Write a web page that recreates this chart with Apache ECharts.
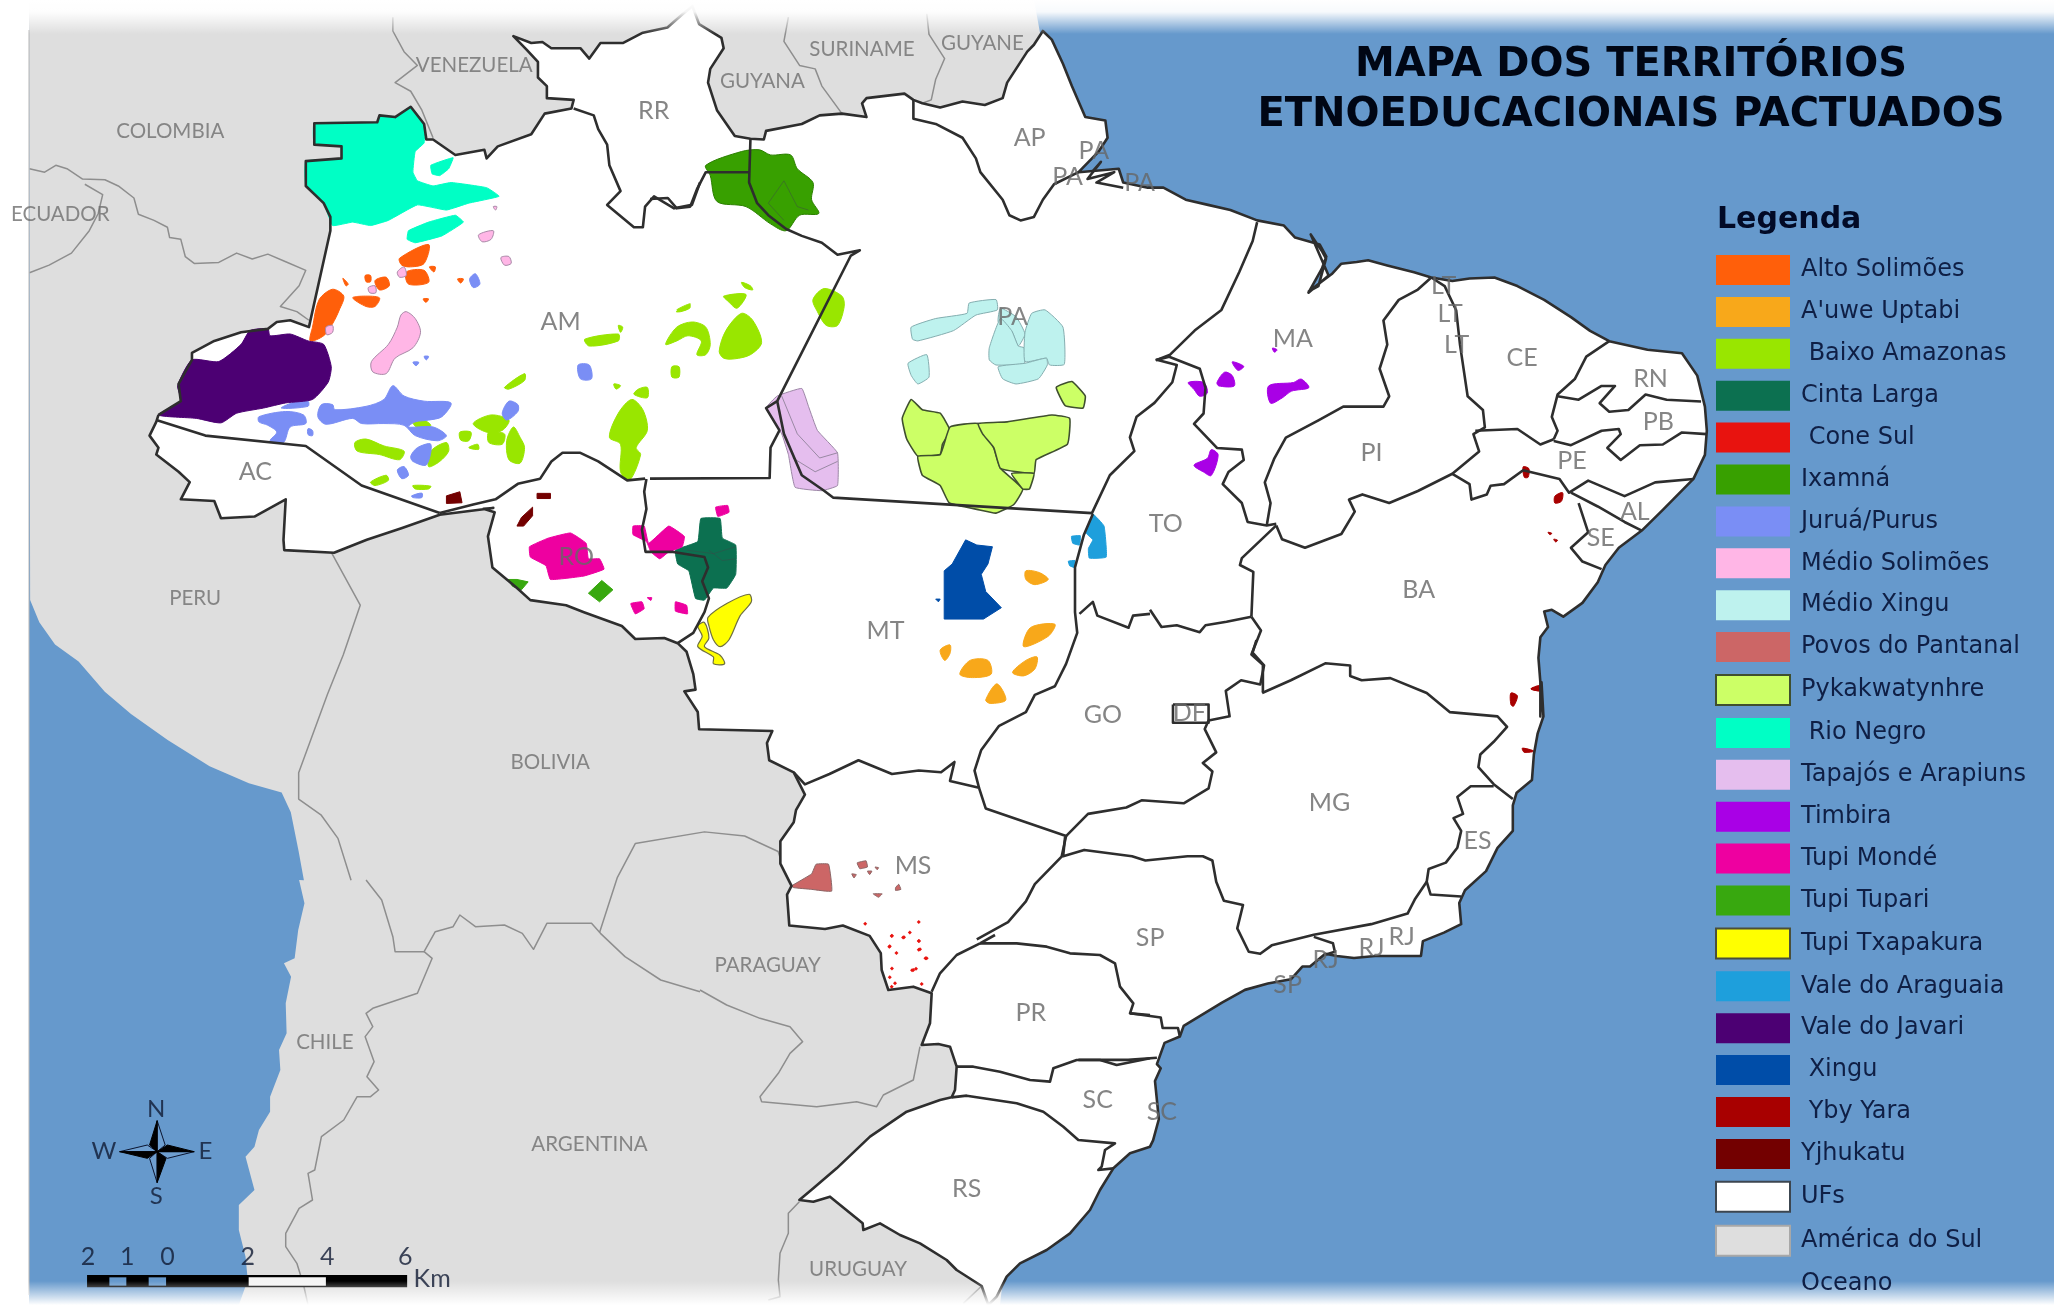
<!DOCTYPE html>
<html><head><meta charset="utf-8">
<style>html,body{margin:0;padding:0;background:#fff}#c{width:2054px;height:1305px}</style>
<script src="https://cdn.jsdelivr.net/npm/echarts@6/dist/echarts.min.js"></script>
</head><body><div id="c"></div>
<script>
const sheet=(ox,oy,kx,ky)=>pts=>pts.map(p=>[ox+p[0]/kx,oy+p[1]/ky]);
const A=sheet(0,0,2.24,2.904),B=sheet(650,0,2.24,2.904),C=sheet(1150,200,2.613,2.904),
      D=sheet(450,440,2.24,2.904),E=sheet(1000,640,2.613,2.358),F=sheet(0,880,2.24,3),
      G=sheet(700,930,3,3),S=sheet(0,0,.7634,.7634);

// ---------- legend ----------
const legendNames=["Alto Solimões","A'uwe Uptabi"," Baixo Amazonas","Cinta Larga"," Cone Sul","Ixamná","Juruá/Purus","Médio Solimões","Médio Xingu","Povos do Pantanal","Pykakwatynhre"," Rio Negro","Tapajós e Arapiuns","Timbira","Tupi Mondé","Tupi Tupari","Tupi Txapakura","Vale do Araguaia","Vale do Javari"," Xingu"," Yby Yara","Yjhukatu","UFs","América do Sul","Oceano"];

// ---------- South America ----------
const landTop=[[29,0],[1034,0]];
const landNorthCoast=S([[23,458],[30,475],[42,492],[60,505],[80,528],[100,545],[128,565],[160,585],[190,598],[215,605],[222,620],[228,650],[232,672]]);
const landWestCoast=F([[670,0],[682,70],[668,150],[660,235],[636,250],[652,290],[640,370],[642,460],[625,510],[628,570],[605,650],[605,695],[580,750],[570,800],[550,830],[570,930],[535,975],[535,1050],[550,1130],[555,1200],[535,1275]]);
const southAmerica=[[...landTop,[1045,60],[1100,400],[1000,1305],[240,1305],...landWestCoast.slice().reverse(),...landNorthCoast.slice().reverse()]];
const countryBorders=[
 A([[66,490],[100,500],[125,480],[150,490],[185,520],[235,522],[265,540],[300,575],[310,622],[345,640],[375,660],[380,690],[405,695],[415,745],[435,765],[490,762],[530,735],[565,752],[600,738],[640,760],[685,785],[670,830],[628,890],[665,905],[692,930]]),
 A([[190,535],[230,565],[220,620],[200,670],[160,735],[110,770],[66,792]]),
 A([[880,50],[880,90],[905,150],[935,190],[885,240],[920,265],[945,320],[970,400]]),
 B([[310,50],[300,120],[335,190],[370,200],[385,250],[430,330]]),
 B([[620,40],[625,100],[660,170],[640,230],[630,290],[610,300]]),
 S([[252,420],[275,462],[262,500],[250,530],[228,590],[228,610],[245,622],[258,640],[268,672]]),
 F([[820,0],[855,60],[880,170],[885,215],[950,215],[975,155],[1015,140],[1030,105],[1065,140],[1130,135],[1170,160],[1195,208],[1225,130],[1325,130],[1345,160],[1400,230],[1480,300],[1568,335]]),
 F([[950,215],[968,235],[935,340],[835,385],[820,400],[835,440],[818,470],[838,545],[822,590],[848,630],[830,650],[800,650],[770,720],[720,770],[705,870],[690,880],[700,960],[670,985],[640,1060],[640,1100],[665,1150],[680,1215],[690,1275]]),
 D([[335,1430],[375,1270],[415,1172],[570,1138],[660,1150],[735,1195],[740,1215]]),
 G([[0,180],[80,225],[180,265],[270,290],[308,335],[270,370],[235,430],[180,500],[185,515],[350,530],[470,515],[530,530],[550,495],[640,450],[660,350]]),
 G([[298,815],[265,850],[265,910],[240,970],[235,1050],[240,1100],[205,1110]]),
 G([[845,1068],[790,1120]])
];

// ---------- Brazil outline ----------
const ufOutline=[...A([[355,1205],[405,1165],[400,1115],[430,1045],[430,1025],[480,990],[540,965],[600,955],[620,935],[650,930],[692,950],[740,670],[740,630],[725,590],[685,540],[685,468],[765,460],[765,425],[704,420],[704,358],[845,355],[850,335],[885,340],[920,310],[950,360],[955,405],[970,405],[1020,450],[1085,435],[1090,460],[1115,425],[1190,390],[1220,330],[1280,315],[1285,290],[1225,285],[1225,250],[1205,225],[1205,180],[1180,145],[1150,105],[1190,125],[1215,122],[1235,140],[1300,140],[1320,170],[1345,125],[1395,125],[1440,95],[1495,80],[1530,40]]),
 ...B([[95,18],[110,70],[160,110],[165,140],[135,200],[130,240],[150,320],[190,395],[225,403],[255,405],[260,380],[340,360],[380,335],[430,330],[485,340],[475,300],[485,285],[570,272],[590,290],[610,300],[650,312],[700,295],[750,305],[790,285],[800,240],[845,150],[860,130],[880,90],[900,115],[925,185],[945,250],[975,340],[1020,350],[1025,400],[1005,440],[990,460],[960,500],[1050,490],[1060,530],[1115,545],[1150,545],[1200,580],[1250,595],[1300,610],[1360,640],[1420,655],[1445,690],[1500,710],[1515,745],[1505,780],[1475,850],[1520,800]]),
 ...C([[420,100],[450,150],[460,170],[440,250],[415,265],[475,215],[500,185],[540,180],[570,175],[620,190],[690,210],[735,225],[790,235],[835,228],[900,225],[960,250],[1030,290],[1100,340],[1150,380],[1200,410],[1300,435],[1390,445],[1430,510],[1450,600],[1455,670],[1450,740],[1420,810],[1340,900],[1285,960],[1225,1010],[1190,1060],[1170,1110],[1130,1170],[1080,1210],[1050,1190],[1030,1195],[1040,1240],[1020,1270],[1015,1330],[1020,1400],[1020,1500]]),
 ...E([[1415,100],[1420,180],[1405,220],[1395,270],[1390,330],[1350,360],[1340,390],[1340,450],[1300,490],[1270,545],[1215,590],[1200,620],[1205,670],[1160,690],[1105,710],[1100,745],[1040,745],[980,745],[925,750],[880,745],[850,740],[810,770],[790,770],[760,800],[700,810],[640,825],[580,855],[480,910],[470,935],[430,950],[410,1000],[420,1010],[405,1040],[415,1130],[400,1180]]),
 ...G([[1350,650],[1290,670],[1240,715],[1200,780],[1170,840],[1110,910],[1040,960],[960,1000],[920,1040],[890,1100],[865,1125],[845,1068],[770,1020],[740,990],[660,940],[600,915],[540,880],[490,900],[488,880],[390,800],[340,815],[298,810],[340,775],[410,715],[510,620],[620,545],[720,510],[755,502],[765,480],[770,410],[750,350],[715,342],[665,345],[690,280],[695,190],[640,170],[565,180],[545,120]]),
 ...D([[965,1490],[940,1440],[880,1410],[840,1420],[760,1410],[755,1320],[765,1295],[740,1230],[740,1165],[770,1110],[775,1075],[795,1030],[770,965],[715,930],[710,880],[722,845],[558,840],[555,790],[525,730],[550,725],[545,680],[530,615],[510,590],[480,575],[415,578],[385,540],[300,500],[260,480],[180,465],[150,430],[95,370],[85,280],[100,210],[75,200]]),
 ...A([[1105,1475],[985,1495]]),
 ...S([[307,403],[280,412],[255,422],[217,420]]),
 ...A([[635,1568],[640,1450],[570,1500],[495,1505],[480,1455],[405,1450],[425,1400],[400,1370],[350,1320],[355,1300],[335,1265],[350,1225]])
];
const ufBorders=[
 A([[350,1220],[460,1265],[685,1295],[810,1410],[985,1490]]),
 A([[1285,315],[1330,335],[1340,375],[1360,420],[1365,480],[1390,555],[1360,595],[1420,660],[1440,660],[1445,600],[1465,570],[1510,605],[1550,595],[1568,530]]),
 B([[0,578],[40,575],[60,605],[90,600],[105,550],[125,500],[222,500]]),
 B([[225,403],[222,530],[240,590],[265,625],[305,665],[340,685],[385,705],[420,740],[470,727],[450,742],[285,1165],[260,1185],[290,1250],[270,1300],[268,1388],[0,1390]]),
 A([[1445,1390],[1405,1395],[1340,1340],[1300,1315],[1260,1315],[1235,1340],[1210,1390],[1160,1405],[1110,1450],[1060,1465],[985,1490]]),
 D([[440,113],[435,150],[440,200],[430,260],[438,325],[500,325],[570,340],[578,370],[565,410],[580,460],[570,500],[545,560],[510,590]]),
 B([[285,1165],[300,1260],[340,1380],[390,1425],[410,1445],[990,1490],[1030,1380],[1085,1310],[1075,1270],[1090,1210],[1130,1170],[1170,1110],[1180,1060],[1135,1045],[1165,1030],[1220,960],[1280,900],[1320,790],[1350,700],[1360,645]]),
 D([[1440,215],[1420,275],[1400,370],[1400,500],[1405,560],[1380,650],[1355,715],[1310,740],[1290,790],[1230,830],[1190,900],[1175,960],[1185,1010]]),
 D([[1410,505],[1440,470],[1450,510],[1520,545],[1530,510],[1568,505]]),
 C([[0,1190],[30,1240],[70,1235],[130,1255],[145,1235],[200,1225],[265,1210]]),
 D([[770,965],[795,1000],[850,970],[915,930],[990,970],[1050,960],[1100,965],[1130,935],[1120,990],[1185,1010],[1200,1070],[1290,1110],[1380,1150],[1370,1210],[1310,1290],[1290,1340],[1250,1400],[1180,1450]]),
 G([[840,40],[770,75],[720,130],[695,185]]),
 G([[840,40],[885,15]]),
 E([[170,465],[230,410],[330,395],[370,378],[480,385],[545,350],[555,310],[530,290],[565,265],[535,210],[545,190],[600,180],[590,120],[630,95],[680,105],[690,60],[660,30],[670,0]]),
 C([[265,1210],[290,1250],[265,1320],[295,1350],[295,1430]]),
 E([[685,125],[760,95],[850,55],[915,60],[915,85],[945,95],[1020,90],[1115,125],[1175,170],[1300,180],[1325,205],[1290,240],[1255,270],[1250,300],[1290,340],[1340,375]]),
 E([[1290,345],[1230,345],[1195,370],[1210,410],[1185,420],[1205,450],[1195,490],[1165,525],[1120,540],[1115,570],[1125,600],[1205,605]]),
 E([[1115,570],[1085,610],[1065,645],[970,670],[820,695],[710,720],[680,740],[650,735],[620,680],[635,625],[585,615],[565,570],[555,520],[530,510],[490,510],[380,520],[345,510],[220,495],[165,510],[170,465]]),
 E([[820,700],[870,715],[875,735],[850,742]]),
 G([[840,40],[950,40],[1040,50],[1110,70],[1200,75],[1245,100],[1260,170],[1300,220],[1290,250],[1350,255]]),
 E([[340,880],[420,890],[425,915],[465,915],[470,935]]),
 G([[770,410],[820,410],[900,425],[990,450],[1050,455],[1060,415],[1130,390],[1200,390],[1250,405],[1350,385]]),
 E([[205,990],[335,990],[410,985]]),
 G([[755,502],[800,497],[850,505],[950,520],[1030,545],[1090,590],[1135,630],[1245,640],[1215,660],[1205,710],[1195,720],[1240,715]]),
 C([[735,225],[700,260],[650,290],[610,350],[620,420],[600,490],[625,570],[610,600],[505,600],[440,640],[355,690],[325,750],[300,820],[315,880],[305,945]]),
 C([[15,465],[50,455],[130,490],[145,545],[140,620],[115,650],[175,720],[240,725],[245,755],[205,790],[190,825],[240,880],[255,935],[305,945],[330,940]]),
 C([[330,945],[345,985],[405,1010],[500,970],[535,905],[520,870],[555,855],[625,880],[700,845],[790,795],[860,730],[845,680],[875,660],[870,610],[830,570],[810,420],[800,320],[770,250],[735,225]]),
 C([[330,945],[240,1040],[235,1060],[270,1080],[265,1210]]),
 C([[850,670],[960,665],[1020,710],[1055,695]]),
 C([[1200,410],[1140,455],[1110,520],[1065,565],[1050,630],[1065,670],[1055,695]]),
 C([[1065,570],[1120,580],[1180,540],[1215,540],[1175,590],[1200,615],[1250,610],[1295,565],[1350,580],[1440,585]]),
 C([[1055,700],[1100,712],[1180,670],[1225,665],[1230,680],[1195,720],[1230,755],[1280,712],[1340,710],[1390,675],[1455,680]]),
 C([[790,795],[835,825],[840,870],[880,855],[890,830],[925,825],[975,785],[1070,810],[1095,850],[1145,815],[1240,860],[1320,820],[1420,810]]),
 C([[1100,850],[1170,890],[1240,935],[1285,960]]),
 C([[1120,880],[1145,965],[1100,1010],[1130,1050],[1180,1072]]),
 E([[452,152],[545,152],[545,195],[452,195],[452,152]]),
 B([[990,500],[1010,470],[980,520],[1040,500],[1000,530],[1060,545]]),
 B([[590,290],[590,345],[640,360],[700,400],[730,460],[740,500],[790,580],[805,625],[830,640],[860,630],[880,580],[905,535],[960,500]])
];
const territoryInnerLines=[
 B([[300,525],[265,590],[300,640]]),B([[300,525],[330,600],[355,610]]),
 B([[295,1150],[330,1260],[380,1330],[420,1315]]),B([[320,1330],[370,1370],[420,1340]]),
 D([[530,320],[590,330],[640,310]]),D([[580,320],[610,350],[640,345]])
];

// ---------- territories ----------
const altoSolimoes=[A([[700,950],[715,870],[745,840],[770,860],[760,900],[745,940],[725,975],[695,990]]),A([[895,750],[960,710],[950,765],[920,775],[900,770]]),A([[910,790],[950,785],[960,820],[915,825]]),A([[790,865],[815,860],[850,865],[840,890],[820,890]]),A([[840,815],[865,805],[872,830],[850,842]]),A([[962,775],[975,775],[972,790]]),A([[818,800],[830,800],[830,818],[820,818]]),A([[768,808],[780,825],[775,830]]),A([[948,868],[960,868],[954,878]]),A([[1025,810],[1038,810],[1032,822]])];
const auwe=[D([[1290,380],[1320,385],[1340,405],[1310,420],[1290,405]]),D([[1300,545],[1355,535],[1340,570],[1285,600]]),D([[1098,610],[1120,595],[1120,620],[1108,640]]),D([[1142,680],[1165,640],[1205,640],[1212,680],[1170,690]]),D([[1260,675],[1290,640],[1315,630],[1310,665],[1285,685]]),D([[1200,755],[1225,708],[1245,755],[1210,765]])];
const baixoAmazonas=[
 A([[1310,985],[1385,970],[1385,990],[1320,1005]]),A([[1385,945],[1395,950],[1390,965]]),
 A([[1365,1270],[1385,1200],[1415,1160],[1440,1190],[1450,1250],[1425,1300],[1435,1320],[1410,1395],[1390,1370],[1390,1290]]),
 A([[1060,1230],[1100,1205],[1140,1220],[1125,1250],[1090,1255]]),A([[1095,1255],[1130,1260],[1125,1290],[1095,1285]]),
 A([[1150,1240],[1165,1270],[1175,1300],[1165,1345],[1140,1335],[1135,1280]]),
 A([[795,1285],[820,1275],[860,1295],[905,1310],[895,1335],[850,1320],[800,1310]]),
 A([[960,1355],[965,1310],[1000,1285],[1005,1310],[985,1340]]),A([[1030,1255],[1055,1255],[1050,1280],[1032,1278]]),
 A([[1050,1300],[1070,1290],[1072,1305]]),A([[830,1400],[865,1380],[870,1395],[840,1410]]),
 A([[925,1410],[965,1412],[960,1420],[930,1420]]),A([[1130,1125],[1175,1085],[1175,1105],[1140,1130]]),
 A([[1430,1130],[1450,1125],[1450,1155],[1420,1145]]),A([[1375,1115],[1390,1120],[1380,1130]]),
 A([[1505,1065],[1520,1065],[1518,1095],[1505,1095]]),A([[1515,905],[1545,885],[1545,895],[1525,905]]),
 A([[925,1228],[945,1218],[965,1235],[945,1250]]),
 B([[35,1000],[60,950],[95,935],[125,950],[135,1000],[125,1030],[105,1030],[115,990],[85,975],[60,990]]),
 B([[155,1020],[170,960],[205,910],[230,930],[250,995],[225,1030],[190,1042],[165,1040]]),
 B([[365,870],[390,838],[430,860],[435,890],[420,945],[395,945],[375,905]]),
 B([[165,860],[215,855],[195,895],[175,875]]),B([[205,820],[225,830],[230,842],[212,835]]),
 B([[50,1070],[65,1065],[65,1095],[52,1095]]),B([[60,900],[90,882],[80,900]])
];
const cintaLarga=[D([[562,228],[605,228],[610,285],[640,305],[640,390],[620,430],[590,430],[570,465],[550,460],[535,380],[510,360],[505,320],[555,295]])];
const ixamna=[B([[125,480],[205,440],[245,435],[270,450],[315,450],[330,490],[365,530],[362,580],[378,620],[335,625],[305,670],[270,650],[215,600],[150,585],[135,510]])];
const juruaPurus=[
 A([[880,1120],[905,1150],[950,1165],[1010,1170],[990,1210],[960,1220],[930,1225],[915,1240],[970,1240],[1000,1265],[980,1280],[930,1265],[905,1235],[860,1230],[810,1230],[790,1215],[730,1232],[712,1210],[720,1175],[745,1175],[750,1190],[820,1180],[860,1160]]),
 A([[580,1210],[640,1195],[680,1205],[685,1230],[650,1240],[635,1285],[605,1280],[620,1255],[600,1235],[580,1225]]),
 A([[630,1185],[665,1165],[690,1165],[690,1180]]),A([[1140,1165],[1160,1175],[1160,1195],[1135,1220],[1125,1200]]),
 A([[935,1300],[965,1290],[955,1350],[925,1340],[920,1325]]),A([[890,1365],[905,1355],[915,1380],[900,1390]]),
 A([[1295,1060],[1320,1060],[1325,1100],[1300,1100]]),A([[1052,810],[1065,795],[1075,825],[1060,835]]),
 A([[922,1440],[945,1432],[945,1445],[925,1445]]),A([[690,1245],[700,1250],[700,1265],[690,1262]]),
 A([[925,1052],[938,1052],[932,1062]]),A([[950,1035],[960,1035],[955,1045]])
];
const medioSolimoes=[
 A([[910,905],[930,925],[942,965],[925,1010],[885,1040],[865,1085],[835,1080],[832,1050],[870,1000],[890,950],[898,915]]),
 A([[1072,682],[1105,670],[1100,695],[1080,702]]),A([[1122,748],[1140,745],[1145,765],[1130,770]]),
 A([[730,950],[745,945],[745,965],[732,972]]),A([[825,835],[840,830],[842,850],[828,850]]),
 A([[890,790],[905,775],[910,800],[895,805]]),A([[1105,600],[1113,600],[1110,610]])
];
const medioXingu=[
 B([[585,950],[640,925],[710,910],[715,880],[775,870],[778,900],[730,915],[680,960],[600,990],[588,985]]),
 B([[785,895],[820,920],[840,970],[825,1005],[810,960],[780,935]]),
 B([[760,1010],[785,925],[810,960],[825,1005],[838,1010],[838,1055],[775,1060],[760,1045]]),
 B([[840,965],[855,910],[885,900],[925,950],[928,1058],[895,1060],[888,1040],[840,1050]]),
 B([[780,1065],[840,1055],[888,1040],[890,1060],[870,1100],[820,1115],[790,1100]]),
 B([[578,1055],[620,1030],[625,1095],[600,1115],[585,1090]])
];
const povosPantanal=[D([[765,1295],[810,1260],[820,1232],[848,1232],[855,1310],[810,1305],[770,1300]]),D([[912,1228],[932,1222],[935,1240],[918,1245]]),D([[900,1260],[910,1262],[905,1272]]),D([[935,1252],[945,1252],[940,1262]]),D([[952,1240],[960,1242],[957,1248]]),D([[998,1300],[1005,1290],[1010,1305],[998,1308]]),D([[948,1318],[968,1318],[960,1328]])];
const pykakwatynhre=[
 B([[565,1215],[585,1160],[610,1190],[650,1200],[672,1250],[655,1290],[650,1320],[600,1325],[575,1275]]),
 B([[600,1325],[650,1320],[672,1240],[735,1230],[770,1300],[785,1360],[835,1420],[815,1465],[775,1490],[735,1480],[670,1460],[650,1410],[610,1380]]),
 B([[735,1230],[800,1225],[900,1205],[940,1215],[935,1290],[865,1335],[860,1375],[785,1360],[770,1300],[745,1260]]),
 B([[810,1375],[860,1375],[850,1420],[835,1420]]),B([[910,1125],[945,1108],[975,1150],[970,1185],[930,1178]])
];
const rioNegro=[
 A([[704,358],[845,355],[850,335],[885,340],[920,310],[950,360],[950,415],[930,440],[925,500],[935,525],[970,540],[1010,530],[1090,545],[1118,570],[1050,590],[1000,610],[935,595],[870,640],[830,655],[790,645],[745,655],[725,590],[685,540],[685,468],[765,460],[765,425],[704,420]]),
 A([[965,480],[1015,458],[1005,490],[985,510],[968,505]]),
 A([[915,670],[960,645],[1020,625],[1038,645],[990,685],[930,705],[912,695]])
];
const tapajosArapiuns=[B([[260,1185],[285,1150],[340,1128],[355,1180],[375,1250],[420,1315],[420,1410],[385,1425],[325,1415],[310,1320],[295,1260]])];
const timbira=[C([[100,530],[140,530],[150,560],[130,570],[115,550]]),C([[175,530],[195,500],[215,510],[220,540],[180,540]]),C([[215,470],[245,483],[230,495]]),C([[310,540],[375,530],[395,520],[415,545],[370,555],[345,575],[315,590]]),C([[115,770],[150,750],[160,725],[178,740],[160,800],[140,790]]),C([[320,430],[332,435],[325,442]])];
const tupiMonde=[D([[178,310],[220,285],[270,270],[305,300],[310,345],[335,345],[345,375],[300,395],[225,405],[215,365],[180,340]]),D([[410,250],[435,250],[445,300],[490,250],[525,280],[520,310],[490,325],[470,345],[450,325],[440,295],[410,275]]),D([[595,195],[622,190],[625,210],[600,222]]),D([[405,475],[430,470],[435,490],[415,505]]),D([[505,470],[530,480],[532,505],[505,497]]),D([[442,458],[452,458],[450,466]])];
const tupiTupari=[D([[340,408],[365,435],[335,470],[310,445]]),D([[130,405],[150,405],[175,412],[160,435],[140,425]])];
const tupiTxapakura=[D([[578,515],[620,475],[670,448],[675,470],[650,510],[625,580],[605,600],[590,580],[580,540]]),D([[555,540],[570,530],[580,575],[570,600],[605,625],[615,650],[590,650],[590,630],[555,600],[565,570]])];
const valeAraguaia=[D([[1440,215],[1465,250],[1470,340],[1432,343],[1430,315],[1440,290],[1425,270]]),D([[1392,280],[1412,278],[1410,305],[1395,300]]),D([[1385,352],[1400,350],[1398,370],[1388,365]])];
const valeJavari=[A([[355,1205],[405,1165],[398,1120],[430,1045],[490,1050],[540,1000],[560,960],[600,955],[605,975],[650,970],[690,990],[725,1000],[742,1065],[735,1110],[700,1160],[640,1170],[590,1185],[530,1200],[495,1228],[440,1215]])];
const xingu=[D([[1155,290],[1180,305],[1215,310],[1205,360],[1190,390],[1200,440],[1235,487],[1195,520],[1107,520],[1107,380],[1125,360]]),D([[1088,462],[1098,462],[1094,470]])];
const ybyYara=[C([[975,775],[990,780],[988,805],[978,805]]),C([[1058,860],[1078,850],[1075,875],[1058,880]]),C([[1040,965],[1050,968],[1045,972]]),C([[1055,985],[1065,988],[1060,993]]),C([[943,1432],[960,1440],[950,1470],[943,1465]]),C([[995,1420],[1018,1410],[1020,1425]]),E([[1365,255],[1395,262],[1370,265]]),E([[1388,115],[1415,110],[1412,120]])];
const yjhukatu=[D([[195,155],[225,155],[225,170],[195,170]]),D([[185,195],[185,220],[165,250],[150,250],[160,225]]),A([[1000,1440],[1030,1428],[1035,1460],[1000,1462]])];
const coneSulDots=[...D([[930,1405],[1050,1400],[990,1440],[1030,1430],[1015,1445],[1050,1455],[985,1470],[1050,1480],[1065,1505],[1000,1490],[1035,1540],[990,1535],[985,1560]]),...G([[575,18],[612,22],[657,33],[568,50],[660,58],[680,85],[640,120],[648,116],[585,160],[575,170],[665,162]])];

// ---------- place names ----------
const stateLabels=[['RR',499,85],['AP',786,105],['AM',428,246],['MA',987,259],['CE',1162,273],['RN',1260,289],['PB',1266,322],['PE',1200,352],['PI',1047,346],['AL',1248,391],['SE',1222,411],['BA',1083,450],['TO',890,400],['AC',195,360],['MT',676,482],['GO',842,546],['DF',908,544],['MG',1015,613],['ES',1128,642],['MS',697,661],['SP',878,716],['RJ',1070,715],['RJ',1047,724],['RJ',1012,733],['SP',983,752],['PR',787,773],['SC',838,840],['SC',887,849],['RS',738,908],['PA',773,242],['PA',835,115],['PA',815,135],['PA',870,140],['LT',1102,218],['LT',1107,240],['LT',1112,263],['RO',440,425]];
const countryLabels=[['VENEZUELA',362,50],['COLOMBIA',130,100],['ECUADOR',46,164],['PERU',149,457],['BOLIVIA',420,582],['GUYANA',582,62],['SURINAME',658,38],['GUYANE',750,33],['PARAGUAY',586,737],['CHILE',248,796],['ARGENTINA',450,874],['URUGUAY',655,969]];
// ---------- furniture ----------
const compassDark=[F([[352,722],[352,815],[335,795]]),F([[435,815],[352,815],[375,795]]),F([[268,815],[352,815],[330,835]]),F([[352,908],[352,815],[372,835]])];
const compassLight=[F([[352,722],[352,815],[370,795]]),F([[435,815],[352,815],[375,835]]),F([[268,815],[352,815],[330,795]]),F([[352,908],[352,815],[335,835]])];
const scaleBlack=[F([[195,1185],[912,1185],[912,1222],[195,1222]])];
const scaleBlue=[F([[245,1192],[283,1192],[283,1217],[245,1217]]),F([[333,1192],[372,1192],[372,1217],[333,1217]])];
const scaleWhite=[F([[557,1192],[730,1192],[730,1217],[557,1217]])];
const scaleLabels=[['2',197,1132],['1',285,1132],['0',375,1132],['2',555,1132],['4',733,1132],['6',908,1132],['Km',968,1197]];
const compassLabels=[['N',350,688],['W',233,815],['E',460,815],['S',350,948]];

// ---------- series helpers ----------
const polySeries=(name,polys,st,z,closed=true)=>({
 name,type:'custom',coordinateSystem:'cartesian2d',silent:true,z,animation:false,clip:false,
 itemStyle:{color:st.fill||'transparent',borderColor:st.legendBorder||'transparent',borderWidth:st.legendBorder?2:0},
 data:polys.map(p=>p[0]),
 renderItem(params,api){
  const pts=polys[params.dataIndex].map(p=>api.coord(p));
  return {type:closed?'polygon':'polyline',shape:{points:pts,smooth:st.smooth||0},
   style:{fill:closed?st.fill:null,stroke:st.stroke||null,lineWidth:st.width||0,lineJoin:'round'}};
 }
});
const labelSeries=(name,rows,conv,color,size,font,z=40)=>({
 name,type:'scatter',silent:true,z,symbolSize:1,itemStyle:{color:'rgba(0,0,0,0)'},animation:false,
 data:rows.map(r=>({name:r[0],value:conv([[r[1],r[2]]])[0]})),
 label:{show:true,position:'inside',formatter:'{b}',color,fontSize:size,fontFamily:font}
});
const W=2054,H=1305;
const ocean='#6699CC', land='#DEDEDE', uf='#2E2E2E';
const T=(name,polys,fill,stroke,width,legendBorder,smooth=.3)=>polySeries(name,polys,{fill,stroke:stroke||fill,width:width||1,legendBorder,smooth},5);

const series=[
 polySeries('Oceano',[[[0,0],[W,0],[W,H],[0,H]]],{fill:ocean},1),
 polySeries('América do Sul',southAmerica,{fill:land,legendBorder:'#A8A8A8'},2),
 polySeries('Fronteiras',countryBorders,{stroke:'#8E8E8E',width:1.5},3,false),
 polySeries('UFs',[ufOutline],{fill:'#FFFFFF',legendBorder:'#3C4650'},4),
 T("Alto Solimões",altoSolimoes,'#FF5F0A'),
 T("A'uwe Uptabi",auwe,'#F8A81A'),
 T(" Baixo Amazonas",baixoAmazonas,'#99E600'),
 T("Cinta Larga",cintaLarga,'#0C7050',null,1,null,.1),
 {name:" Cone Sul",type:'scatter',silent:true,z:5,symbol:'diamond',symbolSize:4,animation:false,itemStyle:{color:'#E8130F',opacity:1},data:coneSulDots},
 T("Ixamná",ixamna,'#38A000','#2B7F00',1),
 T("Juruá/Purus",juruaPurus,'#7A8EF5'),
 T("Médio Solimões",medioSolimoes,'#FFB6E6','#A98AA8',1),
 T("Médio Xingu",medioXingu,'#BEF2EE','#84AEB0',1,null,.15),
 T("Povos do Pantanal",povosPantanal,'#CC6666','#8C6666',1,null,.1),
 T("Pykakwatynhre",pykakwatynhre,'#CCFF66','#3F4F2F',1.6,'#3F4F2F',.12),
 T(" Rio Negro",rioNegro,'#00FFC5',null,1,null,.1),
 T("Tapajós e Arapiuns",tapajosArapiuns,'#E5BEEE','#9C86A6',1,null,.1),
 T("Timbira",timbira,'#A900E6'),
 T("Tupi Mondé",tupiMonde,'#EE00A0',null,1,null,.1),
 T("Tupi Tupari",tupiTupari,'#38A80F',null,1,null,0),
 T("Tupi Txapakura",tupiTxapakura,'#FFFF00','#6F7040',1.2,'#4A4F3A'),
 T("Vale do Araguaia",valeAraguaia,'#1E9FDC',null,1,null,.1),
 T("Vale do Javari",valeJavari,'#4C0073',null,1,null,.2),
 T(" Xingu",xingu,'#004DA8',null,1,null,0),
 T(" Yby Yara",ybyYara,'#A80000'),
 T("Yjhukatu",yjhukatu,'#730000',null,1,null,0),
 polySeries('Detalhes',territoryInnerLines,{stroke:'rgba(60,70,70,.45)',width:1},5.5,false),
 polySeries('UFs',[[...ufOutline,ufOutline[0]],...ufBorders],{stroke:uf,width:2.6},6,false),
 polySeries('Escala',scaleBlack,{fill:'#000000'},8),
 polySeries('Escala',scaleBlue,{fill:ocean},9),
 polySeries('Escala',scaleWhite,{fill:'#F4F4F4'},9),
 polySeries('Rosa',compassLight,{fill:'#6F9FD0',stroke:'#0B1530',width:1},8),
 polySeries('Rosa',compassDark,{fill:'#000000',stroke:'#000000',width:1},9),
 labelSeries('Estados',stateLabels,S,'#666666',25,'Lato'),
 labelSeries('Países',countryLabels,S,'#6E6E6E',20.5,'Lato'),
 labelSeries('Escala texto',scaleLabels,F,'#101A33',25,'Lato'),
 labelSeries('Rosa texto',compassLabels,F,'#101A33',24,'Lato')
];

const chart=echarts.init(document.getElementById('c'),null,{renderer:'canvas',width:W,height:H});
chart.setOption({
 animation:false,
 backgroundColor:'#FFFFFF',
 grid:{left:0,right:0,top:0,bottom:0},
 xAxis:{type:'value',min:0,max:W,show:false},
 yAxis:{type:'value',min:0,max:H,inverse:true,show:false},
 title:[
  {text:'MAPA DOS TERRITÓRIOS\nETNOEDUCACIONAIS PACTUADOS',left:1626,top:36,textAlign:'center',z:30,
   textStyle:{fontFamily:'DejaVu Sans',fontWeight:'bold',fontSize:40,lineHeight:50,color:'#000614'}},
  {text:'Legenda',left:1712,top:200,z:30,textStyle:{fontFamily:'DejaVu Sans',fontWeight:'bold',fontSize:30,color:'#020A26'}}
 ],
 legend:{type:'plain',orient:'vertical',left:1715,top:255,padding:0,z:30,icon:'rect',itemWidth:74,itemHeight:30,itemGap:11.9,
  selectedMode:false,
  data:legendNames.map(name=>name==='Oceano'?{name,itemStyle:{color:'rgba(0,0,0,0)'}}:name),
  textStyle:{fontFamily:'DejaVu Sans',fontSize:24,color:'#0F1F45',padding:[4,0,0,6]}},
 graphic:{elements:[
  {type:'rect',z:15,silent:true,shape:{x:0,y:0,width:29,height:H},style:{fill:'#FFFFFF'}},
  {type:'rect',z:15,silent:true,shape:{x:28.5,y:30,width:1,height:H-40},style:{fill:'#B8B8B8'}},
  {type:'rect',z:16,silent:true,shape:{x:0,y:0,width:W,height:34},
   style:{fill:new echarts.graphic.LinearGradient(0,0,0,1,[{offset:0,color:'rgba(255,255,255,1)'},{offset:.35,color:'rgba(255,255,255,.95)'},{offset:1,color:'rgba(255,255,255,0)'}])}},
  {type:'rect',z:16,silent:true,shape:{x:0,y:H-24,width:W,height:24},
   style:{fill:new echarts.graphic.LinearGradient(0,0,0,1,[{offset:0,color:'rgba(255,255,255,0)'},{offset:1,color:'rgba(255,255,255,1)'}])}}
 ]},
 series
});
</script></body></html>
